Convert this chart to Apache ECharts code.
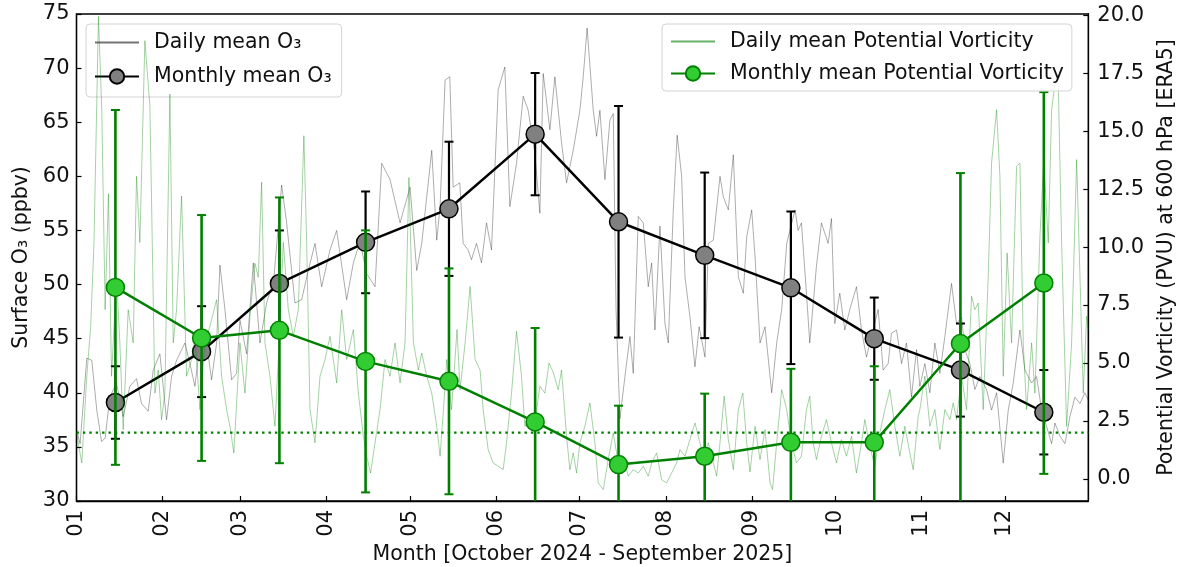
<!DOCTYPE html>
<html>
<head>
<meta charset="utf-8">
<script src="https://cdn.jsdelivr.net/npm/echarts@6/dist/echarts.min.js"></script>
<style>
html,body{margin:0;padding:0;background:#fff;}
#chart{width:1177px;height:567px;}
</style>
</head>
<body>
<div id="chart"></div>
<script>
// ---- Data (x = day of year, 0 = 1 Jan) ----
const monthStarts = [0,31,59,90,120,151,181,212,243,273,304,334];
const monthLabels = ['01','02','03','04','05','06','07','08','09','10','11','12'];
const monthMid = [14,45,73,104,134,165,195,226,257,287,318,348];

const o3Monthly = [39.1,43.8,50.1,53.9,57.0,63.9,55.8,52.7,49.7,45.0,42.1,38.2];
const o3MonthlyErr = [3.35,4.2,4.9,4.7,6.2,5.65,10.7,7.65,7.05,3.8,4.3,3.9];
const pvMonthly = [8.26,6.08,6.41,5.07,4.21,2.46,0.62,0.98,1.58,1.58,5.84,8.45];
const pvMonthlyErr = [7.65,5.3,5.73,5.65,4.87,4.05,2.54,2.7,3.17,3.28,7.35,8.23];
const pvThreshold = 2.0;

const o3Days = [0,1.3,3.7,5.5,7.3,9,10.3,12,14.4,16.8,19.2,21.6,23.4,25.8,27.6,30,32.4,34.2,36,39,40.8,42.6,45,46.8,48.6,50.4,51.6,53.4,55.8,57.6,
58.8,61.2,63.6,66,68.4,71,73.8,75.6,78.6,81,83.4,85.8,88.2,91.2,93.6,97.2,99.6,102,104.4,107.4,109.8,112.8,116.4,120,
122.4,124.2,127.8,129.6,130.8,132.6,134.3,135.5,137.9,139.1,140.9,142.1,143.9,145.7,147.5,149.3,151.7,154.1,155.9,158.3,160.7,162.5,164.9,166.7,167.9,170.3,172.1,174.5,176.3,178.7,
181.1,182.3,183.7,185.9,187.1,188.3,190.1,191.9,193.1,194.1,195.5,197.3,199.1,200.3,202.1,203.9,205.7,206.9,208.1,209.9,211.7,212.9,214.7,216.1,217.7,218.9,220.7,222.5,224,226.1,227.3,229.1,231.5,232.7,234.5,236.3,238.1,239.9,241.1,242.9,
244.1,245.9,247.7,250.1,251.9,253.7,255.5,258.5,259.6,260.8,262.6,263.8,266.2,268,270.4,271.6,272.8,274.6,276.4,278.2,280.6,282.4,284.2,286,288.4,290.2,292,293.2,295,296.8,298.6,300.4,302.2,
303.4,305.2,307,308.8,310.6,312.4,314.8,316.6,318.4,319.6,321.4,323.2,325,327.4,329.2,331,333.4,335.2,337,339.4,341.2,343.6,345.4,347.2,349,350.8,352,353.8,355.6,357.4,359.2,361,362.8,364];
const o3Daily = [36.6,35.3,43.2,43.0,38.4,35.5,35.8,39.6,40.9,37.8,40.6,41.3,39.0,38.3,42.1,43.6,37.5,41.5,43.0,44.6,42.7,40.6,45.8,44.6,41.2,44.6,51.8,47.7,41.2,41.8,
46.7,43.6,52.0,44.6,48.3,50.5,59.2,55.7,48.3,48.6,51.3,53.8,49.8,53.2,55.0,48.6,52.0,54.0,51.0,49.8,61.2,59.7,55.7,59.0,
51.3,53.8,62.4,54.1,57.2,68.9,69.2,59.0,59.4,53.8,53.2,52.3,53.8,52.0,55.7,53.2,68.0,70.1,57.2,61.2,67.4,66.1,62.1,56.6,69.5,64.3,69.2,63.1,59.4,62.4,
66.1,69.2,73.7,66.1,63.7,66.1,59.7,65.2,65.8,47.7,37.6,41.5,45.2,41.8,56.3,55.7,49.8,52.0,45.8,55.4,46.4,44.6,56.9,63.8,60.0,50.7,47.0,42.4,46.1,43.3,53.8,54.1,60.0,58.1,56.9,62.0,50.7,49.2,54.4,56.9,
52.6,44.6,46.1,40.0,44.6,47.7,53.8,56.9,55.0,55.7,49.2,44.6,51.7,55.7,53.8,56.1,46.4,49.2,45.8,47.7,49.8,45.8,43.3,45.2,47.7,42.1,42.7,45.5,45.8,42.7,44.6,39.6,44.0,
40.6,42.7,40.0,44.6,41.8,45.2,50.1,46.4,47.0,44.0,42.7,40.3,41.5,40.3,38.4,40.0,33.5,38.4,40.9,45.8,42.1,40.9,41.5,38.4,36.9,35.3,37.2,36.0,35.3,37.8,39.6,39.0,40.0,39.3];

const pvDays = [0,1.9,3.7,5.1,6.3,7.9,9.1,10.3,11.5,12.6,14.4,15.6,16.8,18.6,20.4,21.6,22.8,24.6,26.4,28.2,29.4,30.6,31.8,33.6,34.8,36,37.8,39.6,41.4,42.6,44.4,46.2,48,50.4,52.2,54,55.2,56.6,
58.8,60.6,62.4,64.2,65.4,66.6,67.8,69.6,71.4,72.6,74.4,76.2,78,79.8,81.8,82.8,84,85.8,87.6,89.4,91.2,93.6,95.4,97.2,99.6,101.4,103.2,104.4,105.8,107.4,109.2,111,112.8,114.6,116.4,118.2,119.6,
121.2,123,124.2,126,127.8,129.6,130.8,132,133.2,134.9,136.9,138,139.8,141.6,143.4,145.2,146.3,148.1,149.9,151.7,153.5,154.7,156.5,158.3,160.1,161.3,163.1,164.9,166.7,168.5,170,171.5,173.3,174.5,176.3,177.5,178.7,179.9,
181.1,182.9,184.7,186.5,187.7,189.5,191.3,193.1,194.9,196.7,198.5,200.3,202.1,203.9,205.7,206.9,208.7,210.5,212.3,214.1,215.9,217.1,218.9,220.7,222.5,223.7,225.5,227.3,229.1,230.3,231.5,233,234.5,236.3,238.1,239.7,241.1,
242.3,244.1,245.9,247.7,249.5,250.4,251.9,253.7,255.5,257.2,259,260.8,262.6,263.8,265,266.2,268,269.8,271.6,273.4,275.2,277,278.8,280.6,282.4,283.6,285.4,287.2,289,290.8,292.6,294.4,296.2,298,299.8,301,302.8,
303.4,305.2,307,308.8,310.6,312.4,314.2,315.4,316.6,318.4,320.2,322,323.2,324.4,326.2,328,329.2,331,332.2,333.4,334.8,336.4,338.2,339.4,340.6,341.8,343.6,344.8,346.6,348,349.6,350.8,352,353.2,354.4,356.2,358,359.8,361,362.2,363.4,364];
const pvDaily = [1.99,0.69,4.43,6.58,10.2,19.95,15.9,7.3,12.3,4.43,8.7,5.87,2.13,7.3,5.87,13.05,10.2,18.9,16.1,3.7,4.7,2.56,3.7,16.6,5.87,7.3,12.2,4.43,5.15,6.15,2.99,5.87,6.58,7.73,4.43,2.99,2.27,1.12,
5.87,3.7,7.0,9.3,8.7,12.8,5.87,4.43,2.27,5.15,10.2,7.3,6.15,7.3,14.8,10.2,2.99,1.56,4.43,5.15,6.15,4.14,7.3,5.15,6.44,3.7,1.84,0.98,0.26,1.56,2.99,5.15,4.43,5.87,4.14,5.87,13.0,
5.87,4.7,5.43,4.43,3.7,2.27,0.98,2.99,5.15,2.99,6.44,3.85,5.87,8.3,5.15,4.7,2.99,1.27,0.69,0.55,0.4,1.56,3.7,6.37,4.43,2.27,2.7,2.42,4.0,3.7,5.0,4.6,3.85,4.7,1.84,0.4,1.12,0.26,
1.56,2.27,3.28,1.56,-0.17,-0.46,0.84,1.99,0.69,0.98,0.12,0.4,0.26,0.55,0.12,0.69,1.12,-0.03,-0.17,0.26,0.69,1.27,0.98,1.7,2.42,1.84,0.98,1.56,0.69,0.12,1.56,3.57,1.7,0.4,2.99,3.7,1.56,
0.3,2.27,0.84,2.13,-0.17,-0.46,1.56,3.85,2.99,1.56,0.69,0.98,2.99,3.57,1.56,0.84,1.84,2.56,1.56,0.69,1.7,0.98,1.84,0.26,1.56,2.56,1.41,0.55,1.99,2.99,3.85,2.27,0.98,2.27,1.12,0.4,2.7,
2.99,4.43,2.27,2.99,1.27,2.99,2.56,3.28,2.56,4.43,2.99,7.88,7.3,7.59,2.99,8.74,13.62,15.92,13.05,4.43,9.74,5.87,13.48,13.62,5.87,2.99,5.87,3.7,10.46,13.77,10.18,15.92,17.07,17.07,10.18,2.27,5.87,13.77,8.74,3.7,7.02,6.44];

// ---- Build ----
const FONT = 'DejaVu Sans';
const zip = (a, b) => a.map((v, i) => [v, b[i]]);
const X_MIN = 0, X_MAX = 364;
const O3_MIN = 30, O3_MAX = 75;
const PV_MIN = -0.95, PV_MAX = 20.05;
const pvTicks = [0, 2.5, 5, 7.5, 10, 12.5, 15, 17.5, 20];

function errRenderer(yMin, yMax, color, lw, capW) {
  return function (params, api) {
    const x = api.value(0), m = api.value(1), e = api.value(2);
    let lo = m - e, hi = m + e;
    const loClip = lo < yMin, hiClip = hi > yMax;
    lo = Math.max(lo, yMin); hi = Math.min(hi, yMax);
    const p1 = api.coord([x, lo]), p2 = api.coord([x, hi]);
    const ch = [{type: 'line', shape: {x1: p1[0], y1: p1[1], x2: p2[0], y2: p2[1]}, style: {stroke: color, lineWidth: lw}}];
    if (!loClip) ch.push({type: 'line', shape: {x1: p1[0] - capW, y1: p1[1], x2: p1[0] + capW, y2: p1[1]}, style: {stroke: color, lineWidth: 2}});
    if (!hiClip) ch.push({type: 'line', shape: {x1: p2[0] - capW, y1: p2[1], x2: p2[0] + capW, y2: p2[1]}, style: {stroke: color, lineWidth: 2}});
    return {type: 'group', children: ch};
  };
}

const chart = echarts.init(document.getElementById('chart'), null, {renderer: 'canvas'});
const axisCommon = {
  axisLine: {show: true, onZero: false, lineStyle: {color: '#000', width: 1.3}},
  splitLine: {show: false},
  nameTextStyle: {fontFamily: FONT, fontSize: 20.5, color: '#111'}
};
const legendCommon = {
  orient: 'vertical',
  itemWidth: 44, itemHeight: 18,
  textStyle: {fontFamily: FONT, fontSize: 20.5, color: '#111', padding: [0, 0, 0, 10]},
  backgroundColor: 'rgba(255,255,255,0.8)',
  borderColor: '#d4d4d4', borderWidth: 1, borderRadius: 4,
  selectedMode: false
};
const noSym = {color: 'rgba(0,0,0,0)', borderWidth: 0, borderColor: 'rgba(0,0,0,0)'};

chart.setOption({
  animation: false,
  backgroundColor: '#fff',
  grid: {left: 76.5, right: 88.7, top: 14, bottom: 66, containLabel: false, outerBoundsMode: 'none',
    show: true, borderColor: '#000', borderWidth: 1.3, backgroundColor: 'transparent'},
  legend: [
    Object.assign({}, legendCommon, {
      data: [{name: 'Daily mean O₃', itemStyle: noSym}, 'Monthly mean O₃'],
      left: 86, top: 24, itemGap: 13, padding: [8, 10, 10, 8], z: 3}),
    Object.assign({}, legendCommon, {
      data: [{name: 'Daily mean Potential Vorticity', itemStyle: noSym}, 'Monthly mean Potential Vorticity'],
      left: 662, top: 24, itemGap: 11, padding: [7, 8, 7, 8], z: 8})
  ],
  xAxis: Object.assign({}, axisCommon, {
    type: 'value', min: X_MIN, max: X_MAX,
    axisTick: {show: true, inside: true, length: 5, lineStyle: {color: '#000', width: 1.2}, customValues: monthStarts},
    axisLabel: {customValues: monthStarts, rotate: 90, margin: 9, fontFamily: FONT, fontSize: 21, color: '#111',
      formatter: v => monthLabels[monthStarts.indexOf(v)] || ''},
    name: 'Month [October 2024 - September 2025]', nameLocation: 'middle', nameGap: 39
  }),
  yAxis: [
    Object.assign({}, axisCommon, {
      type: 'value', min: O3_MIN, max: O3_MAX, interval: 5, position: 'left',
      axisTick: {show: true, inside: true, length: 5, lineStyle: {color: '#000', width: 1.2}},
      axisLabel: {margin: 7, fontFamily: FONT, fontSize: 21, color: '#111'},
      name: 'Surface O₃ (ppbv)', nameLocation: 'middle', nameGap: 44, nameRotate: 90
    }),
    Object.assign({}, axisCommon, {
      type: 'value', min: PV_MIN, max: PV_MAX, position: 'right',
      axisTick: {show: true, inside: true, length: 5, lineStyle: {color: '#000', width: 1.2}, customValues: pvTicks},
      axisLabel: {customValues: pvTicks, margin: 9, fontFamily: FONT, fontSize: 21, color: '#111', formatter: v => Number(v).toFixed(1)},
      name: 'Potential Vorticity (PVU) at 600 hPa [ERA5]', nameLocation: 'middle', nameGap: 68, nameRotate: 90
    })
  ],
  series: [
    {name: 'Daily mean O₃', type: 'line', xAxisIndex: 0, yAxisIndex: 0, data: zip(o3Days, o3Daily),
      showSymbol: false, symbol: 'none', lineStyle: {color: '#000', width: 0.6, opacity: 0.55}, z: 1, silent: true},
    {name: 'o3err', type: 'custom', xAxisIndex: 0, yAxisIndex: 0, data: monthMid.map((x, i) => [x, o3Monthly[i], o3MonthlyErr[i]]),
      encode: {x: 0, y: 1}, renderItem: errRenderer(O3_MIN, O3_MAX, '#000', 2.2, 4.5), z: 2, silent: true},
    {name: 'Monthly mean O₃', type: 'line', xAxisIndex: 0, yAxisIndex: 0, data: zip(monthMid, o3Monthly),
      symbol: 'circle', symbolSize: 18, lineStyle: {color: '#000', width: 2.5},
      itemStyle: {color: '#808080', borderColor: '#000', borderWidth: 1.5}, z: 3, silent: true},
    {name: 'Daily mean Potential Vorticity', type: 'line', xAxisIndex: 0, yAxisIndex: 1, data: zip(pvDays, pvDaily),
      showSymbol: false, symbol: 'none', lineStyle: {color: '#008000', width: 0.6, opacity: 0.6}, z: 4, silent: true},
    {name: 'threshold', type: 'line', xAxisIndex: 0, yAxisIndex: 1, data: [[X_MIN, pvThreshold], [X_MAX, pvThreshold]],
      showSymbol: false, symbol: 'none', lineStyle: {color: '#008000', width: 2.4, type: [2.4, 4]}, z: 4, silent: true},
    {name: 'pverr', type: 'custom', xAxisIndex: 0, yAxisIndex: 1, data: monthMid.map((x, i) => [x, pvMonthly[i], pvMonthlyErr[i]]),
      encode: {x: 0, y: 1}, renderItem: errRenderer(PV_MIN, PV_MAX, '#008000', 2.6, 4.5), z: 5, silent: true},
    {name: 'Monthly mean Potential Vorticity', type: 'line', xAxisIndex: 0, yAxisIndex: 1, data: zip(monthMid, pvMonthly),
      symbol: 'circle', symbolSize: 18, lineStyle: {color: '#008000', width: 2.5},
      itemStyle: {color: '#32CD32', borderColor: '#008000', borderWidth: 1.5}, z: 6, silent: true}
  ]
});
</script>
</body>
</html>
